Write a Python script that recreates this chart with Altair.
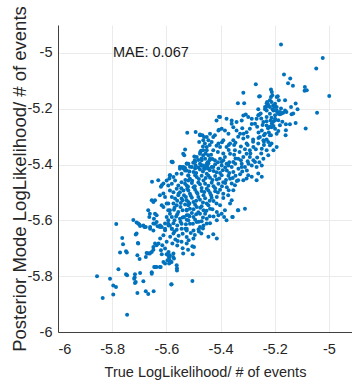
import altair as alt
import pandas as pd

# (true LL / #events, posterior-mode LL / #events) pairs
upper_tail = [
    (-5.177, -4.970), (-5.023, -5.018), (-5.047, -5.056), (-4.999, -5.154), (-5.166, -5.077),
    (-5.143, -5.092), (-5.151, -5.109), (-5.133, -5.118), (-5.089, -5.122), (-5.090, -5.136),
    (-5.082, -5.134), (-5.044, -5.214), (-5.086, -5.271), (-5.160, -5.295), (-5.123, -5.251),
    (-5.214, -5.131), (-5.211, -5.140), (-5.214, -5.158), (-5.209, -5.152), (-5.218, -5.170),
    (-5.255, -5.155), (-5.193, -5.158), (-5.185, -5.170), (-5.162, -5.170), (-5.123, -5.181),
    (-5.116, -5.202), (-5.140, -5.194), (-5.132, -5.217), (-5.336, -5.180), (-5.313, -5.180),
    (-5.316, -5.143), (-5.258, -5.156), (-5.270, -5.112), (-5.189, -5.155), (-5.307, -5.221),
    (-5.261, -5.202), (-5.257, -5.221), (-5.406, -5.229), (-5.261, -5.223), (-5.252, -5.217),
]

core_upper = [
    (-5.228, -5.176), (-5.224, -5.186), (-5.232, -5.194), (-5.236, -5.202), (-5.230, -5.206),
    (-5.206, -5.188), (-5.199, -5.194), (-5.208, -5.202), (-5.177, -5.199), (-5.181, -5.212),
    (-5.169, -5.214), (-5.157, -5.212), (-5.191, -5.212),
    (-5.144, -5.256), (-5.159, -5.256), (-5.159, -5.277), (-5.187, -5.280), (-5.172, -5.247),
    (-5.181, -5.220), (-5.175, -5.217), (-5.162, -5.206), (-5.138, -5.220), (-5.199, -5.223),
    (-5.206, -5.247), (-5.211, -5.253), (-5.218, -5.265), (-5.214, -5.295), (-5.218, -5.331),
    (-5.193, -5.206), (-5.203, -5.190), (-5.218, -5.194), (-5.187, -5.241), (-5.199, -5.241),
    (-5.181, -5.259),
    (-5.236, -5.194), (-5.230, -5.180), (-5.224, -5.188), (-5.212, -5.176), (-5.199, -5.182),
    (-5.193, -5.194), (-5.205, -5.206), (-5.218, -5.218), (-5.230, -5.230), (-5.215, -5.242),
    (-5.199, -5.236), (-5.187, -5.218), (-5.242, -5.248), (-5.230, -5.260), (-5.212, -5.266),
    (-5.199, -5.272), (-5.248, -5.278), (-5.236, -5.290), (-5.218, -5.295), (-5.193, -5.290),
    (-5.224, -5.319), (-5.212, -5.325), (-5.242, -5.313), (-5.255, -5.301), (-5.261, -5.325),
    (-5.279, -5.337), (-5.248, -5.343), (-5.230, -5.349), (-5.205, -5.349), (-5.193, -5.337),
    (-5.224, -5.367), (-5.242, -5.379), (-5.257, -5.392), (-5.279, -5.385), (-5.292, -5.373),
    (-5.304, -5.361), (-5.316, -5.373), (-5.292, -5.349), (-5.304, -5.325), (-5.316, -5.307),
    (-5.328, -5.290), (-5.341, -5.278), (-5.353, -5.266), (-5.359, -5.254), (-5.304, -5.284),
    (-5.292, -5.272), (-5.273, -5.254), (-5.267, -5.236), (-5.285, -5.236), (-5.298, -5.230),
    (-5.316, -5.224), (-5.322, -5.242), (-5.341, -5.248), (-5.359, -5.242), (-5.378, -5.236),
    (-5.402, -5.230), (-5.415, -5.242), (-5.396, -5.272), (-5.384, -5.278), (-5.371, -5.290),
    (-5.408, -5.278), (-5.421, -5.295), (-5.439, -5.290), (-5.451, -5.301), (-5.464, -5.313),
    (-5.476, -5.295), (-5.433, -5.319), (-5.451, -5.337), (-5.464, -5.349), (-5.476, -5.361),
    (-5.427, -5.349), (-5.408, -5.325), (-5.390, -5.313), (-5.402, -5.337), (-5.378, -5.337),
    (-5.365, -5.325), (-5.353, -5.313), (-5.347, -5.349), (-5.365, -5.361), (-5.384, -5.373),
    (-5.402, -5.379), (-5.421, -5.385), (-5.439, -5.379), (-5.451, -5.397), (-5.470, -5.403),
    (-5.427, -5.409), (-5.396, -5.403), (-5.378, -5.397), (-5.353, -5.391), (-5.335, -5.379),
    (-5.322, -5.397), (-5.310, -5.409), (-5.285, -5.403), (-5.267, -5.409),
    (-5.523, -5.286), (-5.492, -5.283), (-5.476, -5.292), (-5.467, -5.295), (-5.461, -5.301),
    (-5.479, -5.319), (-5.458, -5.325), (-5.531, -5.346), (-5.538, -5.361), (-5.534, -5.367),
    (-5.497, -5.371), (-5.488, -5.373), (-5.472, -5.351), (-5.464, -5.367), (-5.482, -5.384),
    (-5.578, -5.390), (-5.544, -5.409), (-5.531, -5.412), (-5.501, -5.394), (-5.492, -5.403),
    (-5.476, -5.397), (-5.464, -5.403), (-5.454, -5.409), (-5.451, -5.349), (-5.445, -5.367),
    (-5.457, -5.379), (-5.441, -5.385), (-5.449, -5.403), (-5.470, -5.385), (-5.461, -5.414),
    (-5.445, -5.414), (-5.494, -5.414), (-5.513, -5.408), (-5.537, -5.414),
    (-5.445, -5.313), (-5.427, -5.301), (-5.406, -5.275),
]

core_lower = [
    (-5.519, -5.397), (-5.494, -5.391), (-5.470, -5.403), (-5.445, -5.395), (-5.420, -5.399),
    (-5.396, -5.391), (-5.371, -5.403), (-5.346, -5.397), (-5.322, -5.409), (-5.297, -5.397),
    (-5.273, -5.391), (-5.248, -5.403),
    (-5.525, -5.421), (-5.500, -5.427), (-5.476, -5.418), (-5.451, -5.433), (-5.426, -5.423),
    (-5.402, -5.430), (-5.377, -5.421), (-5.353, -5.427), (-5.328, -5.435), (-5.303, -5.421),
    (-5.513, -5.451), (-5.488, -5.445), (-5.463, -5.457), (-5.439, -5.447), (-5.414, -5.454),
    (-5.390, -5.463), (-5.365, -5.451), (-5.340, -5.459),
    (-5.525, -5.475), (-5.500, -5.481), (-5.476, -5.471), (-5.451, -5.487), (-5.426, -5.478),
    (-5.402, -5.490), (-5.377, -5.481),
    (-5.513, -5.505), (-5.488, -5.499), (-5.463, -5.510), (-5.439, -5.502), (-5.414, -5.516),
    (-5.390, -5.505),
    (-5.525, -5.528), (-5.500, -5.534), (-5.476, -5.526), (-5.451, -5.540), (-5.426, -5.531),
    (-5.402, -5.546),
    (-5.513, -5.558), (-5.488, -5.552), (-5.463, -5.564), (-5.439, -5.558), (-5.414, -5.570),
    (-5.525, -5.582), (-5.500, -5.588), (-5.476, -5.576), (-5.451, -5.594), (-5.426, -5.586),
    (-5.513, -5.612), (-5.488, -5.606), (-5.463, -5.618), (-5.439, -5.610),
    (-5.525, -5.630), (-5.500, -5.636), (-5.476, -5.624),
    (-5.506, -5.409), (-5.482, -5.411), (-5.457, -5.415), (-5.433, -5.409), (-5.408, -5.414),
    (-5.383, -5.411), (-5.359, -5.409), (-5.334, -5.415), (-5.519, -5.439), (-5.494, -5.438),
    (-5.470, -5.440), (-5.445, -5.439), (-5.420, -5.441), (-5.396, -5.438), (-5.371, -5.440),
    (-5.506, -5.466), (-5.482, -5.464), (-5.457, -5.469), (-5.433, -5.465), (-5.408, -5.469),
    (-5.383, -5.466), (-5.519, -5.493), (-5.494, -5.490), (-5.470, -5.495), (-5.445, -5.493),
    (-5.420, -5.496), (-5.506, -5.519), (-5.482, -5.516), (-5.457, -5.521), (-5.433, -5.519),
    (-5.519, -5.546), (-5.494, -5.544), (-5.470, -5.549), (-5.445, -5.546), (-5.506, -5.574),
    (-5.482, -5.571), (-5.457, -5.576), (-5.519, -5.600), (-5.494, -5.598), (-5.470, -5.603),
    (-5.261, -5.432), (-5.248, -5.444), (-5.267, -5.456), (-5.285, -5.444), (-5.298, -5.438),
    (-5.304, -5.450), (-5.316, -5.456), (-5.335, -5.456), (-5.347, -5.474), (-5.359, -5.468),
    (-5.353, -5.492), (-5.372, -5.510), (-5.359, -5.528), (-5.365, -5.540), (-5.335, -5.564),
    (-5.310, -5.558), (-5.357, -5.588), (-5.384, -5.564), (-5.396, -5.576), (-5.378, -5.600),
    (-5.408, -5.582),
    (-5.580, -5.469), (-5.568, -5.457), (-5.556, -5.475), (-5.544, -5.463), (-5.531, -5.469),
    (-5.519, -5.457), (-5.587, -5.493), (-5.574, -5.499), (-5.562, -5.487), (-5.550, -5.499),
    (-5.537, -5.493), (-5.523, -5.487), (-5.580, -5.516), (-5.568, -5.522), (-5.556, -5.510),
    (-5.544, -5.522), (-5.528, -5.516), (-5.593, -5.540), (-5.574, -5.540), (-5.562, -5.546),
    (-5.547, -5.538), (-5.531, -5.543), (-5.519, -5.534), (-5.587, -5.564), (-5.572, -5.562),
    (-5.556, -5.570), (-5.540, -5.564), (-5.525, -5.562), (-5.580, -5.588), (-5.564, -5.586),
    (-5.550, -5.594), (-5.535, -5.588), (-5.519, -5.582), (-5.593, -5.612), (-5.574, -5.610),
    (-5.560, -5.618), (-5.544, -5.612), (-5.528, -5.614), (-5.580, -5.630), (-5.562, -5.634),
    (-5.544, -5.630), (-5.525, -5.636), (-5.636, -5.606), (-5.624, -5.624), (-5.605, -5.630),
    (-5.660, -5.624), (-5.648, -5.636), (-5.544, -5.433), (-5.531, -5.421), (-5.519, -5.439),
    (-5.537, -5.409), (-5.550, -5.415), (-5.525, -5.397), (-5.562, -5.433), (-5.574, -5.445),
    (-5.599, -5.457), (-5.593, -5.475),
    (-5.653, -5.462), (-5.630, -5.456), (-5.611, -5.468), (-5.587, -5.438), (-5.589, -5.450),
    (-5.577, -5.392), (-5.550, -5.408), (-5.525, -5.396),
    (-5.617, -5.624), (-5.605, -5.635), (-5.592, -5.618), (-5.580, -5.630), (-5.611, -5.653),
    (-5.586, -5.659), (-5.574, -5.647), (-5.623, -5.665), (-5.599, -5.677), (-5.578, -5.683),
    (-5.605, -5.701), (-5.620, -5.707), (-5.592, -5.713), (-5.574, -5.719), (-5.615, -5.689),
    (-5.570, -5.640), (-5.555, -5.655), (-5.540, -5.648), (-5.525, -5.660), (-5.510, -5.645),
    (-5.495, -5.652), (-5.480, -5.640), (-5.500, -5.665), (-5.530, -5.630), (-5.560, -5.690),
    (-5.540, -5.700), (-5.520, -5.705), (-5.465, -5.629), (-5.471, -5.647), (-5.481, -5.632),
    (-5.445, -5.659), (-5.427, -5.650), (-5.414, -5.665), (-5.451, -5.611), (-5.414, -5.600),
    (-5.387, -5.588), (-5.355, -5.588), (-5.336, -5.564),
]

core_fill = [
    (-5.465, -5.335), (-5.440, -5.330), (-5.415, -5.333), (-5.395, -5.320), (-5.370, -5.330),
    (-5.345, -5.322), (-5.325, -5.335), (-5.300, -5.330), (-5.280, -5.318),
    (-5.475, -5.355), (-5.455, -5.360), (-5.435, -5.365), (-5.410, -5.355), (-5.390, -5.360),
    (-5.370, -5.348), (-5.350, -5.365), (-5.330, -5.355), (-5.310, -5.345), (-5.290, -5.360),
    (-5.495, -5.385), (-5.470, -5.378), (-5.448, -5.392), (-5.430, -5.380), (-5.410, -5.392),
    (-5.390, -5.385), (-5.368, -5.392), (-5.345, -5.378), (-5.325, -5.385), (-5.300, -5.388),
    (-5.515, -5.425), (-5.490, -5.430), (-5.465, -5.425), (-5.440, -5.420), (-5.415, -5.428),
    (-5.392, -5.420), (-5.368, -5.430), (-5.345, -5.440), (-5.320, -5.425),
    (-5.530, -5.455), (-5.505, -5.458), (-5.480, -5.452), (-5.455, -5.448), (-5.430, -5.455),
    (-5.405, -5.450), (-5.380, -5.455), (-5.355, -5.448),
    (-5.545, -5.485), (-5.520, -5.480), (-5.495, -5.478), (-5.470, -5.484), (-5.445, -5.476),
    (-5.420, -5.485), (-5.395, -5.478), (-5.370, -5.492),
    (-5.555, -5.505), (-5.535, -5.510), (-5.510, -5.512), (-5.485, -5.505), (-5.460, -5.498),
    (-5.435, -5.510), (-5.410, -5.500), (-5.390, -5.520),
    (-5.560, -5.530), (-5.540, -5.528), (-5.515, -5.540), (-5.490, -5.530), (-5.465, -5.536),
    (-5.440, -5.530), (-5.415, -5.540),
    (-5.570, -5.555), (-5.548, -5.552), (-5.525, -5.565), (-5.500, -5.560), (-5.475, -5.555),
    (-5.452, -5.566), (-5.430, -5.560),
    (-5.560, -5.578), (-5.540, -5.590), (-5.515, -5.585), (-5.490, -5.578), (-5.465, -5.590),
    (-5.440, -5.585),
    (-5.570, -5.600), (-5.548, -5.605), (-5.525, -5.598), (-5.502, -5.612), (-5.480, -5.605),
    (-5.285, -5.255), (-5.265, -5.265), (-5.245, -5.258), (-5.225, -5.270), (-5.205, -5.262),
    (-5.260, -5.285), (-5.240, -5.295), (-5.222, -5.285), (-5.300, -5.300), (-5.280, -5.310),
    (-5.260, -5.305), (-5.240, -5.318), (-5.250, -5.235), (-5.230, -5.245), (-5.212, -5.232),
    (-5.320, -5.270), (-5.335, -5.300), (-5.315, -5.290), (-5.350, -5.330), (-5.270, -5.345),
    (-5.250, -5.360), (-5.265, -5.375), (-5.240, -5.330), (-5.230, -5.310),
]

lower_tail = [
    (-5.856, -5.800), (-5.835, -5.878), (-5.808, -5.809), (-5.796, -5.833), (-5.786, -5.839),
    (-5.796, -5.866), (-5.745, -5.938), (-5.777, -5.775), (-5.785, -5.613), (-5.763, -5.663),
    (-5.760, -5.686), (-5.771, -5.715), (-5.749, -5.711), (-5.746, -5.715), (-5.749, -5.793),
    (-5.745, -5.797), (-5.722, -5.599), (-5.717, -5.805), (-5.713, -5.821), (-5.697, -5.789),
    (-5.707, -5.860), (-5.685, -5.818), (-5.676, -5.854), (-5.667, -5.864), (-5.647, -5.854),
    (-5.710, -5.608), (-5.700, -5.615), (-5.710, -5.647), (-5.713, -5.651), (-5.705, -5.681),
    (-5.707, -5.725), (-5.699, -5.738), (-5.673, -5.717), (-5.664, -5.718), (-5.676, -5.731),
    (-5.654, -5.786), (-5.645, -5.767), (-5.636, -5.767), (-5.621, -5.767), (-5.617, -5.721),
    (-5.599, -5.721), (-5.590, -5.733), (-5.588, -5.743), (-5.585, -5.751), (-5.572, -5.737),
    (-5.562, -5.761), (-5.561, -5.772), (-5.561, -5.780), (-5.582, -5.830), (-5.504, -5.817),
    (-5.538, -5.719), (-5.503, -5.721), (-5.498, -5.695), (-5.504, -5.693), (-5.525, -5.683),
    (-5.518, -5.671), (-5.558, -5.674), (-5.567, -5.669), (-5.544, -5.677),
    (-5.704, -5.611), (-5.697, -5.620), (-5.676, -5.624), (-5.704, -5.683), (-5.669, -5.719),
    (-5.661, -5.719), (-5.654, -5.713), (-5.648, -5.695), (-5.648, -5.705), (-5.593, -5.725),
    (-5.587, -5.725), (-5.575, -5.731), (-5.596, -5.743), (-5.590, -5.755), (-5.611, -5.749),
    (-5.605, -5.755), (-5.642, -5.767), (-5.624, -5.767), (-5.581, -5.749), (-5.654, -5.791),
    (-5.716, -5.793), (-5.719, -5.809), (-5.716, -5.824), (-5.581, -5.829),
    (-5.642, -5.612), (-5.632, -5.621), (-5.623, -5.618), (-5.660, -5.630), (-5.642, -5.683),
    (-5.636, -5.689), (-5.629, -5.683),
    (-5.654, -5.528), (-5.648, -5.534), (-5.642, -5.528), (-5.667, -5.564), (-5.661, -5.576),
    (-5.663, -5.588), (-5.642, -5.576), (-5.636, -5.582), (-5.646, -5.594), (-5.648, -5.611),
    (-5.624, -5.510), (-5.611, -5.504), (-5.605, -5.516), (-5.617, -5.546), (-5.611, -5.552),
    (-5.599, -5.540), (-5.593, -5.564), (-5.587, -5.576), (-5.599, -5.588), (-5.593, -5.600),
    (-5.605, -5.611), (-5.587, -5.618), (-5.685, -5.618), (-5.681, -5.624),
    (-5.617, -5.474), (-5.620, -5.480), (-5.587, -5.438), (-5.581, -5.390),
]

x_ticks = [-6, -5.8, -5.6, -5.4, -5.2, -5]
y_ticks = [-6, -5.8, -5.6, -5.4, -5.2, -5]
x_title = "True LogLikelihood/ # of events"
y_title = "Posterior Mode LogLikelihood/ # of events"
mae_text = ["MAE: 0.067"]
mae_x = [-5.797]
mae_y = [-5.0]

pts = upper_tail + core_upper + core_lower + core_fill + lower_tail
df = pd.DataFrame(pts, columns=["true_ll", "post_ll"])
ann = pd.DataFrame({"x": mae_x, "y": mae_y, "t": mae_text})

FONT = "Liberation Sans"
xscale = alt.Scale(domain=[-6, -4.915], nice=False, zero=False)
yscale = alt.Scale(domain=[-6, -4.9], nice=False, zero=False)

xaxis = alt.Axis(
    values=x_ticks, title=x_title, labelExpr="'' + datum.value",
    grid=True, gridColor="#ebebeb", gridWidth=1,
    domain=True, domainColor="#404040", domainWidth=1,
    ticks=False, labelPadding=10, labelFontSize=14.5, labelFont=FONT,
    labelColor="#262626", titleFont=FONT, titleFontSize=14.5,
    titleFontWeight="normal", titleColor="#262626",
    titleY=40, titleBaseline="middle",
)
yaxis = alt.Axis(
    values=y_ticks, title=y_title, labelExpr="'' + datum.value",
    grid=True, gridColor="#ebebeb", gridWidth=1,
    domain=True, domainColor="#404040", domainWidth=1,
    ticks=False, labelPadding=6, labelFontSize=14.5, labelFont=FONT,
    labelColor="#262626", titleFont=FONT, titleFontSize=18.5,
    titleFontWeight="normal", titleColor="#262626",
    titleX=-39, titleY=153.5, titleAngle=270, titleAlign="center",
    titleBaseline="middle",
)

points = alt.Chart(df).mark_circle(size=16, color="#0072BD", opacity=1).encode(
    x=alt.X("true_ll:Q", scale=xscale, axis=xaxis),
    y=alt.Y("post_ll:Q", scale=yscale, axis=yaxis),
)

label = alt.Chart(ann).mark_text(
    align="left", baseline="middle", font=FONT, fontSize=14.5, color="#1a1a1a"
).encode(
    x=alt.X("x:Q", scale=xscale),
    y=alt.Y("y:Q", scale=yscale),
    text="t:N",
)

chart = alt.layer(points, label).properties(
    width=294, height=307,
    autosize=alt.AutoSizeParams(type="none"),
    padding={"left": 58, "top": 25, "right": 0, "bottom": 49},
).configure_view(stroke=None)

chart.save("out.html", embed_options={"renderer": "svg", "actions": False})
